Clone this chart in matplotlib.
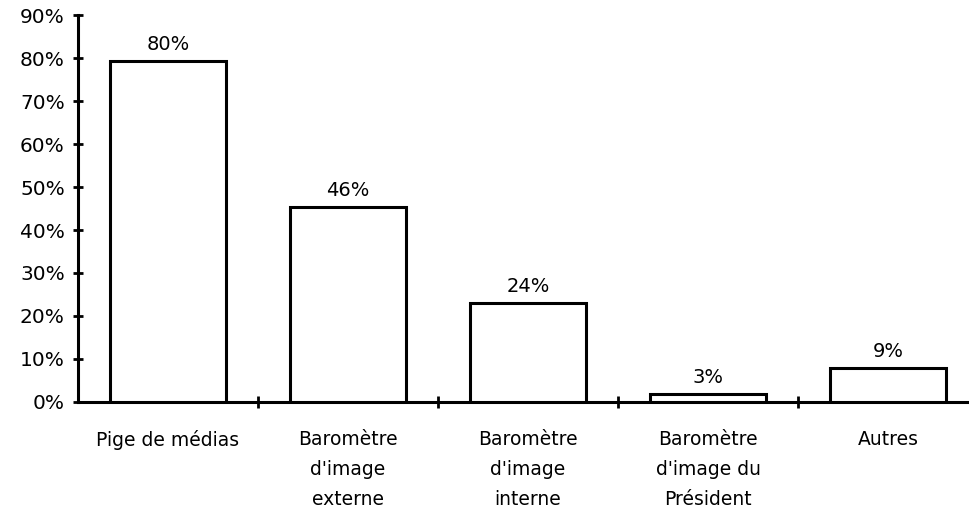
import matplotlib.pyplot as plt

categories = ["Pige de médias", "Baromètre\nd'image\nexterne", "Baromètre\nd'image\ninterne",
              "Baromètre\nd'image du\nPrésident", "Autres"]
# bar heights as drawn (the printed labels are a touch higher than the bars)
bar_heights = [79.3, 45.3, 23.0, 1.8, 7.8]
value_labels = ["80%", "46%", "24%", "3%", "9%"]
y_ticks = [0, 10, 20, 30, 40, 50, 60, 70, 80, 90]
y_tick_labels = ["0%", "10%", "20%", "30%", "40%", "50%", "60%", "70%", "80%", "90%"]

plt.rcParams['font.family'] = ['DejaVu Sans']

fig = plt.figure(figsize=(9.69, 5.2), dpi=100)
ax = fig.add_axes([0.0805, 0.227, 0.9195, 0.744])

xs = [i + 0.5 for i in range(len(categories))]
ax.bar(xs, bar_heights, width=0.64, facecolor='white', edgecolor='black', linewidth=2.2, zorder=3)

for x, h, lab in zip(xs, bar_heights, value_labels):
    ax.annotate(lab, (x, h), xytext=(0, 5), textcoords='offset points',
                ha='center', va='bottom', fontsize=14)

ax.set_xlim(0, 4.95)
ax.set_ylim(0, 90)

for side in ['top', 'right']:
    ax.spines[side].set_visible(False)
for side in ['left', 'bottom']:
    ax.spines[side].set_linewidth(2.2)

ax.set_yticks(y_ticks)
ax.set_yticklabels(y_tick_labels, fontsize=14.5)
ax.tick_params(axis='y', direction='inout', length=7, width=2, pad=6)

# category boundary ticks on the x axis
ax.set_xticks([1, 2, 3, 4])
ax.set_xticklabels([])
ax.tick_params(axis='x', direction='inout', length=9, width=2)

for x, cat in zip(xs, categories):
    ax.text(x, -6.5, cat, ha='center', va='top', fontsize=13.5, linespacing=1.75)

fig.savefig('out.png', dpi=100)
